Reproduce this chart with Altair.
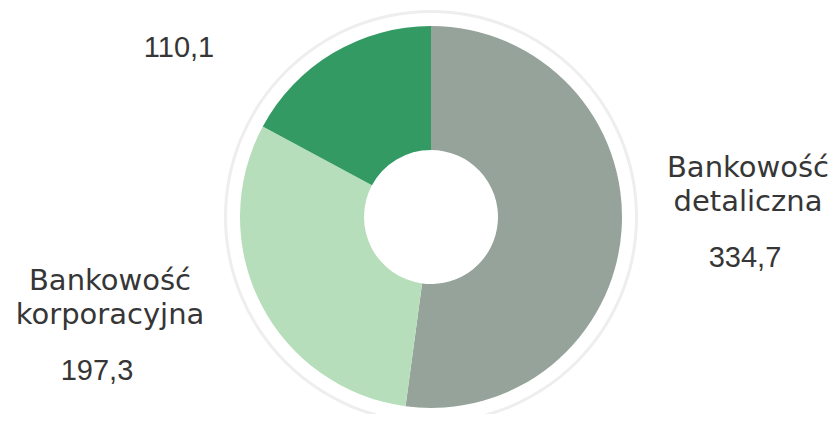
import altair as alt
import pandas as pd
import math

segments = ["Bankowość detaliczna", "Bankowość korporacyjna", "Pozostałe"]
values = [334.7, 197.3, 110.1]
colors = ["#95a39b", "#b6deba", "#339a64"]
value_labels = ["334,7", "197,3", "110,1"]

df = pd.DataFrame({"segment": segments, "value": values, "order": [0, 1, 2]})

CX, CY = 423, 209

ring = alt.Chart(pd.DataFrame({"v": [1]})).mark_arc(
    innerRadius=204, outerRadius=207, color="#eeeeee", theta=0, theta2=2 * math.pi
).encode(x=alt.value(CX), y=alt.value(CY))

donut = alt.Chart(df).mark_arc(innerRadius=67, outerRadius=191, stroke=None).encode(
    theta=alt.Theta("value:Q", stack=True),
    order=alt.Order("order:Q"),
    color=alt.Color("segment:N", scale=alt.Scale(domain=segments, range=colors), legend=None),
    x=alt.value(CX),
    y=alt.value(CY),
)

def txt(lines, x, y, font, lh=34):
    return alt.Chart(pd.DataFrame({"t": [lines]})).mark_text(
        font=font, fontSize=29, color="#363636", align="center",
        baseline="alphabetic", lineHeight=lh
    ).encode(text="t:N", x=alt.value(x), y=alt.value(y))

layers = [
    ring,
    donut,
    txt(["Bankowość", "detaliczna"], 740, 169, "DejaVu Sans", 34),
    txt([value_labels[0]], 737, 259, "Liberation Sans"),
    txt(["Bankowość", "korporacyjna"], 102, 282, "DejaVu Sans", 34),
    txt([value_labels[1]], 89, 372, "Liberation Sans"),
    txt([value_labels[2]], 171, 49, "Liberation Sans"),
]

chart = alt.layer(*layers).properties(
    width=822, height=406, padding=0, autosize=alt.AutoSizeParams(type="none")
).configure_view(stroke=None)

chart.save("out.html", embed_options={"renderer": "svg", "actions": False})
